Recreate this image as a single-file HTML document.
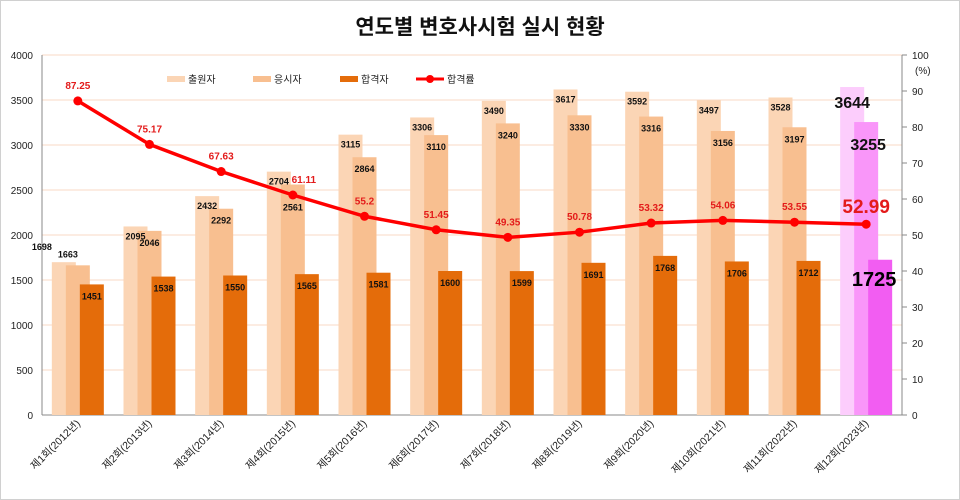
<!DOCTYPE html>
<html><head><meta charset="utf-8"><style>
body{margin:0;background:#fff;}
svg{display:block;font-family:"Liberation Sans","Noto Sans CJK KR",sans-serif;}
</style></head><body>
<svg id="c" width="960" height="500" viewBox="0 0 960 500"></svg>
<script>
const categories=["제1회(2012년)","제2회(2013년)","제3회(2014년)","제4회(2015년)","제5회(2016년)","제6회(2017년)","제7회(2018년)","제8회(2019년)","제9회(2020년)","제10회(2021년)","제11회(2022년)","제12회(2023년)"];
const applicants=[1698,2095,2432,2704,3115,3306,3490,3617,3592,3497,3528,3644];
const takers=[1663,2046,2292,2561,2864,3110,3240,3330,3316,3156,3197,3255];
const passers=[1451,1538,1550,1565,1581,1600,1599,1691,1768,1706,1712,1725];
const rates=[87.25,75.17,67.63,61.11,55.2,51.45,49.35,50.78,53.32,54.06,53.55,52.99];
const leftTicks=[0,500,1000,1500,2000,2500,3000,3500,4000];
const rightTicks=[0,10,20,30,40,50,60,70,80,90,100];

const NS="http://www.w3.org/2000/svg";
const svg=document.getElementById('c');
const X0=42,X1=902,Y0=415,Y1=55;
const cw=(X1-X0)/categories.length;
const cx=i=>X0+cw*(i+0.5);
const yL=v=>Y0-(v/4000)*(Y0-Y1);
const yR=v=>Y0-(v/100)*(Y0-Y1);
function el(t,a,txt){const e=document.createElementNS(NS,t);for(const k in a)e.setAttribute(k,a[k]);if(txt!=null)e.textContent=txt;svg.appendChild(e);return e;}

let e=el('rect',{x:0.5,y:0.5,width:959,height:499,fill:'#fff',stroke:'#d0d0d0'});


e=el('text',{x:480,y:34,'text-anchor':'middle','font-size':21,'font-weight':'bold',fill:'#111'},'연도별 변호사시험 실시 현황');



leftTicks.forEach(v=>{
  if(v>0){e=el('line',{x1:X0,x2:X1,y1:yL(v),y2:yL(v),stroke:'#f8d9c4','stroke-width':1});
  
  }
  e=el('text',{x:33,y:yL(v)+4,'text-anchor':'end','font-size':10,fill:'#222'},v);
  
  
});
rightTicks.forEach(v=>{
  e=el('line',{x1:X1,x2:X1+5,y1:yR(v),y2:yR(v),stroke:'#888'});
  
  
  e=el('text',{x:912,y:yR(v)+4,'font-size':10,fill:'#222'},v);
  
  
});
e=el('text',{x:915,y:74,'font-size':10,fill:'#222'},'(%)');


e=el('line',{x1:X0,x2:X0,y1:Y1,y2:Y0,stroke:'#888'});


e=el('line',{x1:X1,x2:X1,y1:Y1,y2:Y0,stroke:'#888'});


e=el('line',{x1:X0,x2:X1,y1:Y0,y2:Y0,stroke:'#888'});



const last=categories.length-1;
categories.forEach((c,i)=>{
  const x=cx(i),L=i===last;
  const cols=L?['#fccdfc','#f996f9','#f25df2']:['#fbd5b5','#f8bf90','#e46c0a'];
  const vals=[applicants[i],takers[i],passers[i]];
  const names=['applicants-bar','takers-bar','passers-bar'];
  vals.forEach((v,k)=>{
    e=el('rect',{x:x-26+k*14,y:yL(v),width:24,height:Y0-yL(v),fill:cols[k]});
    
    
  });
  if(!L){
    const first=i===0;
    e=el('text',{x:first?x-36:x-14,y:first?yL(vals[0])-12:yL(vals[0])+13,'text-anchor':'middle','font-size':9,'font-weight':'bold',fill:'#111'},vals[0]);
    
    
    e=el('text',{x:first?x-10:x,y:first?yL(vals[1])-8:yL(vals[1])+(i===3?26:15),'text-anchor':'middle','font-size':9,'font-weight':'bold',fill:'#111'},vals[1]);
    
    
    e=el('text',{x:x+14,y:yL(vals[2])+15,'text-anchor':'middle','font-size':9,'font-weight':'bold',fill:'#111'},vals[2]);
    
    
  }else{
    e=el('text',{x:x-14,y:yL(vals[0])+21,'text-anchor':'middle','font-size':16,'font-weight':'bold',fill:'#111'},vals[0]);
    
    
    e=el('text',{x:x+2,y:yL(vals[1])+28,'text-anchor':'middle','font-size':16,'font-weight':'bold',fill:'#111'},vals[1]);
    
    
    e=el('text',{x:x+8,y:yL(vals[2])+26,'text-anchor':'middle','font-size':20,'font-weight':'bold',fill:'#000'},vals[2]);
    
    
  }
  e=el('text',{transform:`translate(${x+3},${Y0+9}) rotate(-45)`,'text-anchor':'end','font-size':10.5,fill:'#222'},c);
  
  
});

e=el('polyline',{points:rates.map((r,i)=>cx(i)+','+yR(r)).join(' '),fill:'none',stroke:'#ff0000','stroke-width':3.5});


rates.forEach((r,i)=>{
  e=el('circle',{cx:cx(i),cy:yR(r),r:4.5,fill:'#ff0000'});
  
  
  const L=i===last;
  e=el('text',{x:cx(i)+(L?0:(i===3?11:0)),y:yR(r)-(L?11:12),'text-anchor':'middle','font-size':L?19:10,'font-weight':'bold',fill:'#e31b1b'},r);
  
  
});

const legend=[['출원자','#fbd5b5',167],['응시자','#f8bf90',253],['합격자','#e46c0a',340]];
legend.forEach(l=>{
  e=el('rect',{x:l[2],y:76,width:18,height:6,fill:l[1]});
  
  
  e=el('text',{x:l[2]+21,y:83,'font-size':10,fill:'#222'},l[0]);
  
  
});
e=el('line',{x1:416,x2:444,y1:79,y2:79,stroke:'#ff0000','stroke-width':3});


e=el('circle',{cx:430,cy:79,r:4,fill:'#ff0000'});


e=el('text',{x:447,y:83,'font-size':10,fill:'#222'},'합격률');


</script>
</body></html>
